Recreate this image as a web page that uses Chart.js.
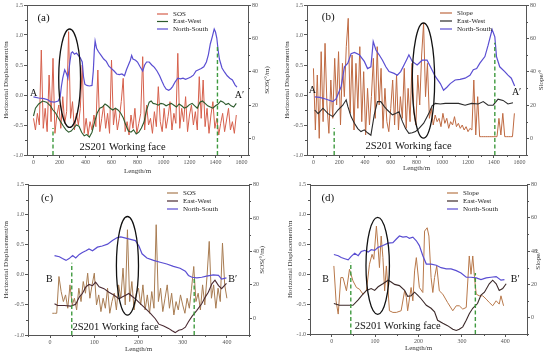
<!DOCTYPE html>
<html><head><meta charset="utf-8">
<script src="https://cdn.jsdelivr.net/npm/chart.js@4.4.1/dist/chart.umd.min.js"></script>
<style>
html,body{margin:0;padding:0;background:#fff}
body{width:550px;height:357px;overflow:hidden;position:relative}
canvas{position:absolute}
</style></head><body>
<canvas id="ca" width="275" height="180" style="left:0;top:0"></canvas>
<canvas id="cb" width="275" height="180" style="left:275px;top:0"></canvas>
<canvas id="cc" width="275" height="177" style="left:0;top:180px"></canvas>
<canvas id="cd" width="275" height="177" style="left:275px;top:180px"></canvas>
<script>
// ---------- tick labels ----------
const ticksLong = [0,200,400,600,800,1000,1200,1400,1600];
const ticksShort = [0,100,200,300,400];
const ticksDisp = [-1.0,-0.5,0.0,0.5,1.0,1.5];
const ticksAngle = [0,20,40,60,80];

// ---------- panel (a) ----------
const northSouthA = [[0,-0.03],[40,-0.05],[80,-0.06],[110,-0.08],[130,-0.11],[160,-0.12],[190,-0.10],[205,-0.03],[215,0.15],[225,0.28],[240,0.42],[255,0.35],[265,0.28],[280,0.55],[290,0.70],[300,0.72],[315,0.68],[330,0.70],[345,0.66],[360,0.62],[375,0.55],[385,0.30],[395,0.18],[410,0.16],[430,0.15],[450,0.16],[460,0.40],[468,0.75],[474,0.90],[485,0.78],[500,0.72],[520,0.66],[540,0.60],[560,0.56],[580,0.48],[600,0.44],[620,0.40],[640,0.35],[660,0.34],[680,0.35],[700,0.32],[715,0.42],[730,0.50],[745,0.58],[755,0.66],[765,0.60],[785,0.58],[800,0.55],[820,0.47],[840,0.40],[855,0.50],[870,0.55],[890,0.55],[910,0.50],[930,0.46],[950,0.40],[970,0.32],[990,0.22],[1005,0.15],[1020,0.10],[1040,0.08],[1055,0.10],[1070,0.14],[1090,0.22],[1110,0.28],[1130,0.27],[1150,0.28],[1170,0.26],[1190,0.28],[1210,0.30],[1230,0.33],[1250,0.40],[1270,0.42],[1290,0.44],[1310,0.47],[1330,0.55],[1345,0.67],[1360,0.85],[1375,0.97],[1390,1.10],[1400,1.05],[1410,0.95],[1420,0.75],[1430,0.60],[1450,0.45],[1470,0.38],[1490,0.32],[1510,0.28],[1530,0.25],[1550,0.17],[1565,0.13]];
const eastWestA = [[0,-0.35],[15,-0.22],[40,-0.15],[70,-0.10],[100,-0.12],[130,-0.18],[150,-0.25],[170,-0.30],[190,-0.38],[210,-0.45],[230,-0.52],[250,-0.58],[270,-0.62],[290,-0.60],[310,-0.55],[330,-0.50],[350,-0.52],[370,-0.62],[390,-0.68],[410,-0.66],[430,-0.70],[450,-0.62],[470,-0.45],[490,-0.30],[510,-0.22],[530,-0.20],[550,-0.15],[570,-0.18],[590,-0.22],[610,-0.25],[630,-0.22],[650,-0.25],[670,-0.30],[690,-0.38],[710,-0.50],[730,-0.60],[750,-0.62],[770,-0.58],[790,-0.65],[810,-0.62],[830,-0.55],[850,-0.45],[870,-0.25],[890,-0.12],[905,-0.10],[920,-0.14],[940,-0.15],[960,-0.17],[980,-0.14],[1000,-0.15],[1020,-0.18],[1040,-0.16],[1060,-0.14],[1080,-0.17],[1100,-0.20],[1120,-0.15],[1140,-0.18],[1160,-0.22],[1180,-0.20],[1200,-0.16],[1220,-0.14],[1240,-0.18],[1260,-0.22],[1280,-0.12],[1300,-0.10],[1320,-0.14],[1340,-0.18],[1360,-0.20],[1380,-0.22],[1400,-0.18],[1420,-0.15],[1440,-0.10],[1460,-0.12],[1480,-0.16],[1500,-0.14],[1520,-0.18],[1540,-0.20],[1560,-0.14]];
const sosA_start = 0, sosA_step = 15;
const sosA = [12,5,15,8,53,6,18,4,38,10, 48,3,14,20,6,25,9,16,64,12, 22,5,15,8,18,44,3,12,2,10, 5,14,7,41,4,12,20,6,15,3, 47,8,18,5,12,22,36,4,10,2, 14,6,18,3,9,15,49,5,20,8, 12,3,16,7,31,10,4,18,6,13, 22,5,15,9,51,6,18,10,25,4, 14,20,8,16,5,37,12,35,7,18, 3,14,22,6,12,2,9,15,4,11, 18,5,10,3,14];
const faceA = [[150,-0.55],[1415,0.83]];
const ellipseA = [278,0.28,84,0.82];

// ---------- panel (b) ----------
const northSouthB = [[10,-0.03],[49,-0.04],[100,-0.07],[151,-0.11],[177,-0.06],[215,0.14],[241,0.47],[267,0.53],[292,0.69],[318,0.71],[356,0.67],[395,0.56],[420,0.44],[446,0.47],[464,0.89],[485,0.75],[510,0.67],[536,0.58],[562,0.47],[587,0.39],[626,0.36],[651,0.33],[677,0.39],[703,0.50],[728,0.61],[741,0.67],[767,0.56],[805,0.50],[844,0.58],[882,0.58],[908,0.47],[946,0.31],[985,0.19],[1010,0.08],[1036,0.13],[1062,0.19],[1100,0.25],[1138,0.26],[1177,0.28],[1215,0.33],[1241,0.42],[1267,0.44],[1292,0.53],[1331,0.64],[1356,0.83],[1387,1.09],[1408,0.97],[1421,0.64],[1446,0.47],[1485,0.39],[1510,0.33],[1536,0.28],[1562,0.15]];
const eastWestB = [[10,-0.25],[36,-0.31],[74,-0.22],[113,-0.31],[151,-0.36],[190,-0.25],[228,-0.17],[254,-0.08],[267,-0.19],[292,-0.36],[318,-0.47],[344,-0.56],[369,-0.61],[395,-0.58],[420,-0.63],[446,-0.67],[472,-0.33],[497,-0.11],[523,-0.11],[549,-0.19],[574,-0.25],[613,-0.33],[638,-0.31],[664,-0.28],[690,-0.44],[715,-0.56],[741,-0.64],[767,-0.63],[792,-0.61],[818,-0.56],[856,-0.47],[895,-0.31],[921,-0.18],[946,-0.14],[985,-0.15],[1023,-0.14],[1074,-0.14],[1126,-0.14],[1177,-0.17],[1228,-0.14],[1279,-0.15],[1318,-0.11],[1356,-0.17],[1395,-0.17],[1433,-0.07],[1472,-0.09],[1510,-0.15],[1549,-0.13]];
const slopeB_start = 0, slopeB_step = 15;
const slopeB = [42,5,38,0,52,10,57,20,3,35, 12,48,20,52,8,45,25,55,72,15, 50,5,45,18,55,10,40,2,30,8, 25,48,12,55,20,42,6,30,10,4, 18,35,8,38,5,25,12,42,6,30, 10,45,15,8,38,20,50,69,25,45, 12,18,8,14,10,12,7,15,9,12, 6,10,8,13,7,9,6,8,5,7, 4,6,5,35,2,25,1,1,1,1, 1,1,1,1,1,1,12,2,15,1, 1,1,1,1,15];
const faceB = [[161,-0.55],[1408,0.87]];
const ellipseB = [854,0.24,87,0.96];

// ---------- panel (c) ----------
const northSouthC = [[10,0.32],[21,0.30],[28,0.27],[36,0.24],[43,0.27],[51,0.32],[58,0.28],[66,0.34],[73,0.37],[81,0.40],[88,0.43],[96,0.40],[107,0.46],[118,0.48],[130,0.51],[141,0.57],[152,0.62],[160,0.63],[171,0.61],[182,0.59],[193,0.57],[201,0.48],[208,0.35],[219,0.28],[234,0.24],[249,0.21],[264,0.18],[279,0.14],[294,0.11],[306,0.06],[313,-0.01],[321,-0.04],[332,-0.05],[343,-0.04],[354,-0.02],[369,0.00],[381,-0.01],[388,-0.07],[399,-0.05]];
const eastWestC = [[10,-0.48],[17,-0.51],[32,-0.51],[47,-0.52],[58,-0.49],[66,-0.37],[73,-0.31],[81,-0.20],[88,-0.16],[96,-0.18],[103,-0.12],[111,-0.20],[122,-0.23],[133,-0.29],[145,-0.34],[156,-0.40],[163,-0.37],[171,-0.34],[178,-0.31],[186,-0.36],[193,-0.40],[204,-0.48],[216,-0.56],[227,-0.64],[238,-0.73],[246,-0.82],[257,-0.85],[268,-0.89],[276,-0.93],[283,-0.96],[291,-0.92],[298,-0.91],[306,-0.87],[313,-0.78],[321,-0.69],[332,-0.59],[343,-0.48],[351,-0.37],[358,-0.29],[366,-0.15],[373,-0.09],[381,-0.18],[388,-0.23],[399,-0.14]];
const sosC_start = 5, sosC_step = 5;
const sosC = [3,3,3,25,16,10,14,6,20,8, 12,5,18,10,22,15,27,12,20,27, 8,14,4,12,6,18,3,10,15,5, 20,12,30,8,53,10,22,5,15,18, 8,20,5,14,3,16,6,56,10,18, 4,12,20,6,15,2,10,5,14,8, 3,12,6,18,31,10,15,5,20,8, 25,46,12,20,6,18,10,45,20,12];
const faceC = [[49,0.20],[326,-0.05]];
const ellipseC = [175,0.15,25,0.82];

// ---------- panel (d) ----------
const northSouthD = [[5,0.33],[15,0.31],[22,0.28],[30,0.26],[38,0.24],[45,0.30],[53,0.35],[61,0.31],[68,0.38],[76,0.40],[84,0.37],[91,0.41],[99,0.40],[107,0.45],[118,0.48],[130,0.52],[141,0.53],[149,0.59],[156,0.64],[164,0.62],[172,0.63],[179,0.60],[187,0.62],[195,0.56],[202,0.48],[210,0.31],[218,0.17],[229,0.17],[241,0.15],[252,0.11],[264,0.09],[275,0.09],[287,0.06],[298,0.02],[310,-0.05],[321,-0.05],[333,-0.06],[344,-0.09],[356,-0.06],[367,-0.05],[379,-0.04],[390,-0.10],[398,-0.09]];
const eastWestD = [[5,-0.49],[18,-0.52],[34,-0.52],[49,-0.52],[61,-0.43],[70,-0.35],[80,-0.27],[91,-0.24],[99,-0.27],[107,-0.21],[118,-0.16],[130,-0.10],[137,-0.13],[145,-0.17],[156,-0.19],[168,-0.27],[175,-0.37],[183,-0.36],[191,-0.30],[198,-0.35],[206,-0.41],[218,-0.52],[229,-0.57],[237,-0.63],[244,-0.77],[256,-0.82],[267,-0.86],[279,-0.92],[287,-0.94],[294,-0.92],[302,-0.88],[310,-0.77],[317,-0.66],[325,-0.57],[336,-0.49],[344,-0.35],[352,-0.30],[363,-0.16],[371,-0.10],[379,-0.16],[386,-0.27],[394,-0.24],[402,-0.16]];
const slopeD = [[5,31],[10,10],[15,2],[21,24],[26,24],[34,16],[41,29],[49,22],[57,18],[64,17],[72,14],[80,16],[87,32],[93,38],[97,35],[103,55],[107,42],[110,30],[114,49],[118,36],[122,16],[126,31],[130,16],[133,4],[141,3],[149,3],[160,4],[168,16],[172,12],[175,4],[183,18],[187,10],[191,28],[195,36],[202,18],[210,15],[214,52],[220,54],[224,49],[229,24],[233,15],[237,24],[242,31],[248,16],[256,14],[267,9],[279,4],[287,7],[294,7],[302,5],[310,6],[317,37],[321,26],[325,37],[329,24],[333,14],[340,13],[348,13],[356,11],[363,9],[371,7],[379,10],[386,8],[390,13],[396,7]];
const faceD = [[44,0.20],[331,0.02]];
const ellipseD = [106,0.14,27,0.81];

// ---------- drawing ----------
const SERIF = "'Liberation Serif','Times New Roman','DejaVu Serif',serif";
const NS_COLOR = '#5a4ed2';
const DASH_COLOR = '#3f9a3f';
const AXIS_COLOR = '#555';
const pairs = a => a.map(p => ({x:p[0], y:p[1]}));
const stepped = (vals, start, step) => vals.map((v,i) => ({x:start + i*step, y:v}));

function makePanel(id, P){
  const cv = document.getElementById(id);
  const W = cv.width, H = cv.height;
  const TPAD = 2, TFS = 7, TLH = TFS*1.2;
  const padL = P.yTitleX - (TPAD + TLH/2);
  const yW = P.L - padL;
  const sR = P.y1TitleX + TPAD + TLH/2;
  const padR = W - sR;
  const y1W = sR - P.R;
  const sB = P.xTitleY + TLH/2;
  const padB = H - sB;
  const xH = sB - P.B;

  const ds = [
    {label:'North-South', data:pairs(P.ns), borderColor:NS_COLOR, borderWidth:1.2, yAxisID:'y', order:1},
    {label:'East-West', data:pairs(P.ew), borderColor:P.ewColor, borderWidth:1.1, yAxisID:'y', order:2},
    {label:P.spikeName, data:P.spike, borderColor:P.spikeColor, borderWidth:1, yAxisID:'y1', order:3}
  ];
  P.face.forEach(f => ds.push({label:'face', data:[{x:f[0],y:-1},{x:f[0],y:f[1]}], borderColor:DASH_COLOR, borderWidth:1.4, borderDash:[4,2.5], yAxisID:'y', order:0}));

  const tickFont = {family:SERIF, size:6};
  const titleFont = {family:SERIF, size:TFS};
  const common = (ticks, fmt) => ({
    afterBuildTicks: s => { s.ticks = ticks.map(v => ({value:v})); },
    ticks:{font:tickFont, color:'#555', padding:1, autoSkip:false, maxRotation:0, callback:fmt},
    grid:{drawOnChartArea:false, drawTicks:true, tickLength:3, color:AXIS_COLOR, lineWidth:1},
    border:{display:true, color:AXIS_COLOR, width:1}
  });

  const annot = {
    id:'annot'+id,
    afterDatasetsDraw(chart){
      const {ctx, chartArea:a, scales} = chart;
      const x = scales.x, y = scales.y, y1 = scales.y1;
      ctx.save();
      // top frame
      ctx.strokeStyle = AXIS_COLOR; ctx.lineWidth = 1;
      ctx.beginPath(); ctx.moveTo(a.left, Math.round(a.top)+0.5); ctx.lineTo(a.right, Math.round(a.top)+0.5); ctx.stroke();
      // minor ticks
      ctx.beginPath();
      const mid = t => t.slice(0,-1).map((v,i)=>(v+t[i+1])/2);
      const xm = mid(P.xTicks); xm.push(P.xTicks[P.xTicks.length-1] + (P.xTicks[1]-P.xTicks[0])/2);
      xm.unshift(P.xTicks[0] - (P.xTicks[1]-P.xTicks[0])/2);
      xm.forEach(v => { if (v < x.min || v > x.max) return; const px = Math.round(x.getPixelForValue(v))+0.5; ctx.moveTo(px, a.bottom); ctx.lineTo(px, a.bottom+2); });
      mid(ticksDisp).forEach(v => { const py = Math.round(y.getPixelForValue(v))+0.5; ctx.moveTo(a.left, py); ctx.lineTo(a.left-2, py); });
      const am = mid(ticksAngle); am.unshift(-10);
      am.forEach(v => { const py = Math.round(y1.getPixelForValue(v))+0.5; ctx.moveTo(a.right, py); ctx.lineTo(a.right+2, py); });
      ctx.stroke();
      // right axis title, reading bottom-to-top
      ctx.save();
      ctx.translate(P.y1TitleX, (a.top + a.bottom)/2);
      ctx.rotate(-Math.PI/2);
      ctx.font = TFS + 'px ' + SERIF; ctx.fillStyle = '#333';
      ctx.textAlign = 'center'; ctx.textBaseline = 'middle';
      ctx.fillText(P.y1Title, 0, 0);
      ctx.restore();
      // ellipse
      const e = P.ellipse;
      const cx = x.getPixelForValue(e[0]), cy = y.getPixelForValue(e[1]);
      const rx = Math.abs(x.getPixelForValue(e[0]+e[2]) - cx), ry = Math.abs(y.getPixelForValue(e[1]+e[3]) - cy);
      ctx.beginPath(); ctx.ellipse(cx, cy, rx, ry, 0, 0, Math.PI*2);
      ctx.strokeStyle = '#111'; ctx.lineWidth = 1.3; ctx.stroke();
      // text labels in data coords
      ctx.fillStyle = '#111'; ctx.textBaseline = 'middle'; ctx.textAlign = 'center';
      P.labels.forEach(l => {
        ctx.font = l[3] + 'px ' + SERIF;
        ctx.fillText(l[0], x.getPixelForValue(l[1]), y.getPixelForValue(l[2]));
      });
      // legend
      const lg = P.legend;
      const items = [[P.spikeName, P.spikeColor],['East-West', P.ewColor],['North-South', NS_COLOR]];
      ctx.font = '7px ' + SERIF; ctx.textAlign = 'left';
      items.forEach((it,i) => {
        const yy = lg.rows[i];
        ctx.strokeStyle = it[1]; ctx.lineWidth = 1.2;
        ctx.beginPath(); ctx.moveTo(lg.x0, yy); ctx.lineTo(lg.x1, yy); ctx.stroke();
        ctx.fillStyle = '#222'; ctx.fillText(it[0], lg.tx, yy);
      });
      ctx.restore();
    }
  };

  new Chart(cv, {
    type:'line',
    data:{datasets:ds},
    options:{
      responsive:false, animation:false, devicePixelRatio:1,
      elements:{point:{radius:0}, line:{tension:0}},
      layout:{padding:{top:P.T, left:padL, right:padR, bottom:padB}},
      plugins:{legend:{display:false}, tooltip:{enabled:false}},
      scales:{
        x:Object.assign(common(P.xTicks, v => String(v)), {
          type:'linear', min:P.xMin, max:P.xMax,
          title:{display:true, text:'Length/m', font:titleFont, color:'#333', padding:{top:0,bottom:0}},
          afterFit: s => { s.height = xH; }
        }),
        y:Object.assign(common(ticksDisp, v => Number(v).toFixed(1)), {
          type:'linear', position:'left', min:-1, max:1.5,
          title:{display:true, text:'Horizontal Displacement/m', font:titleFont, color:'#333', padding:{top:TPAD,bottom:0}},
          afterFit: s => { s.width = yW; }
        }),
        y1:Object.assign(common(ticksAngle, v => String(v)), {
          type:'linear', position:'right', min:-10, max:80,
          title:{display:false},
          afterFit: s => { s.width = y1W; }
        })
      }
    },
    plugins:[annot]
  });
}

makePanel('ca', {
  L:27, R:248, T:5, B:155, yTitleX:6.5, y1TitleX:267, xTitleY:171,
  xMin:-50, xMax:1650, xTicks:ticksLong,
  ns:northSouthA, ew:eastWestA, ewColor:'#2c5a2c',
  spike:stepped(sosA, sosA_start, sosA_step), spikeName:'SOS', spikeColor:'#d6604c', y1Title:'SOS(°/m)',
  face:faceA, ellipse:ellipseA,
  labels:[['(a)',77,1.28,11],['A',0,0.03,10],['A′',1585,0.0,10],['2S201 Working face',685,-0.87,10.5]],
  legend:{x0:157, x1:168, tx:173, rows:[14,21.5,29]}
});
makePanel('cb', {
  L:32, R:251, T:5, B:155, yTitleX:12, y1TitleX:266, xTitleY:168,
  xMin:-50, xMax:1650, xTicks:ticksLong,
  ns:northSouthB, ew:eastWestB, ewColor:'#2a2a2a',
  spike:stepped(slopeB, slopeB_start, slopeB_step), spikeName:'Slope', spikeColor:'#bf6a42', y1Title:'Slope/°',
  face:faceB, ellipse:ellipseB,
  labels:[['(b)',115,1.3,11],['A',-8,0.08,10],['A′',1577,0.05,10],['2S201 Working face',738,-0.85,10.5]],
  legend:{x0:165, x1:177, tx:182, rows:[13,21,29]}
});
makePanel('cc', {
  L:28, R:249, T:3, B:155, yTitleX:6.5, y1TitleX:262, xTitleY:169,
  xMin:-50, xMax:450, xTicks:ticksShort,
  ns:northSouthC, ew:eastWestC, ewColor:'#4a2a32',
  spike:stepped(sosC, sosC_start, sosC_step), spikeName:'SOS', spikeColor:'#a87c52', y1Title:'SOS(°/m)',
  face:faceC, ellipse:ellipseC,
  labels:[['(c)',-7,1.27,11],['B',-2,-0.08,10],['B′',413,-0.08,10],['2S201 Working face',148,-0.87,10.5]],
  legend:{x0:167, x1:178, tx:183, rows:[13,21,29]}
});
makePanel('cd', {
  L:35, R:252, T:4, B:154, yTitleX:15, y1TitleX:263, xTitleY:168,
  xMin:-50, xMax:450, xTicks:ticksShort,
  ns:northSouthD, ew:eastWestD, ewColor:'#3c2a2a',
  spike:pairs(slopeD), spikeName:'Slope', spikeColor:'#b8784a', y1Title:'Slope/°',
  face:faceD, ellipse:ellipseD,
  labels:[['(d)',-9,1.28,11],['B',-14,-0.08,10],['B′',423,-0.08,10],['2S201 Working face',152,-0.87,10.5]],
  legend:{x0:172, x1:183, tx:188, rows:[13,21,29]}
});
</script>
</body></html>
